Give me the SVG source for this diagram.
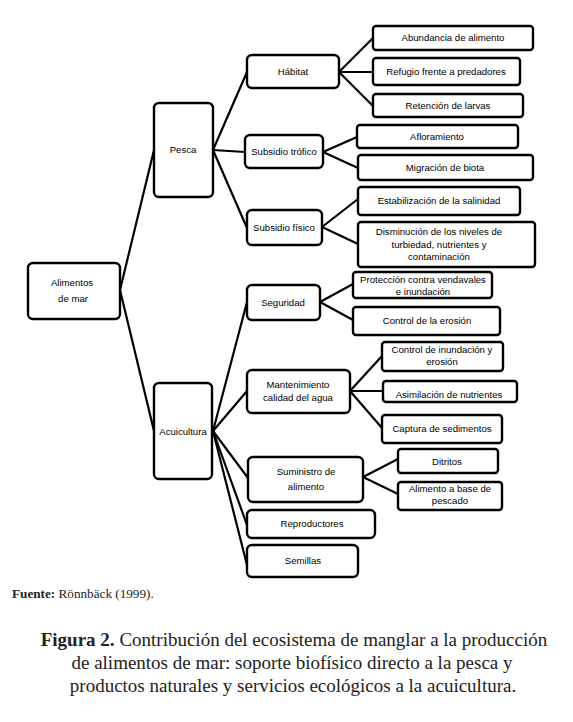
<svg xmlns="http://www.w3.org/2000/svg" width="573" height="722" viewBox="0 0 573 722">
<style>
.n rect{fill:#fff;stroke:#000;stroke-width:2.4}
.n text{font-family:"Liberation Sans",Arial,sans-serif;font-size:9.6px;fill:#000;text-anchor:middle}
#connectors line{stroke:#000;stroke-width:2.2;stroke-linecap:round}
.cap{font-family:"Liberation Serif","Times New Roman",serif;fill:#222}
</style>
<rect width="573" height="722" fill="#fff"/>
<g id="connectors">
<line x1="120" y1="290" x2="154" y2="150"/>
<line x1="120" y1="290" x2="154" y2="431"/>
<line x1="213" y1="150" x2="247" y2="72"/>
<line x1="213" y1="150" x2="245" y2="152"/>
<line x1="213" y1="150" x2="247" y2="228"/>
<line x1="339" y1="72" x2="373" y2="38"/>
<line x1="339" y1="72" x2="373" y2="72"/>
<line x1="339" y1="72" x2="373" y2="106"/>
<line x1="323" y1="152" x2="357" y2="137"/>
<line x1="323" y1="152" x2="358" y2="168"/>
<line x1="322" y1="227" x2="358" y2="199"/>
<line x1="322" y1="227" x2="358" y2="244"/>
<line x1="213" y1="431" x2="247" y2="302"/>
<line x1="213" y1="431" x2="247" y2="391"/>
<line x1="213" y1="431" x2="248" y2="478"/>
<line x1="213" y1="431" x2="247" y2="525"/>
<line x1="213" y1="431" x2="247" y2="565"/>
<line x1="320" y1="302" x2="353" y2="284"/>
<line x1="320" y1="302" x2="353" y2="320"/>
<line x1="350" y1="391" x2="382" y2="356"/>
<line x1="350" y1="391" x2="383" y2="391"/>
<line x1="350" y1="391" x2="382" y2="428"/>
<line x1="363" y1="477" x2="398" y2="459"/>
<line x1="363" y1="477" x2="398" y2="494"/>
</g>
<g id="alimentos" class="n"><rect x="28" y="263" width="92" height="56" rx="5"/><text x="72" y="286">Alimentos</text><text x="73" y="302">de mar</text></g>
<g id="pesca" class="n"><rect x="154" y="103" width="59" height="94" rx="5"/><text x="183" y="153">Pesca</text></g>
<g id="acuicultura" class="n"><rect x="154" y="383" width="58" height="96" rx="5"/><text x="183" y="435">Acuicultura</text></g>
<g id="habitat" class="n"><rect x="247" y="55" width="92" height="33" rx="5"/><text x="293" y="75">Hábitat</text></g>
<g id="abundancia" class="n"><rect x="373" y="26" width="160" height="24" rx="3"/><text x="453" y="41">Abundancia de alimento</text></g>
<g id="refugio" class="n"><rect x="373" y="58" width="147" height="27" rx="3"/><text x="446" y="75">Refugio frente a predadores</text></g>
<g id="retencion" class="n"><rect x="373" y="94" width="150" height="23" rx="3"/><text x="448" y="109">Retención de larvas</text></g>
<g id="subtrofico" class="n"><rect x="245" y="135" width="78" height="33" rx="5"/><text x="284" y="155">Subsidio trófico</text></g>
<g id="afloramiento" class="n"><rect x="357" y="125" width="161" height="23" rx="3"/><text x="437" y="140">Afloramiento</text></g>
<g id="migracion" class="n"><rect x="358" y="155" width="175" height="25" rx="3"/><text x="445" y="171">Migración de biota</text></g>
<g id="subfisico" class="n"><rect x="247" y="210" width="75" height="35" rx="5"/><text x="284" y="231">Subsidio físico</text></g>
<g id="estabilizacion" class="n"><rect x="358" y="187" width="162" height="28" rx="3"/><text x="439" y="204">Estabilización de la salinidad</text></g>
<g id="disminucion" class="n"><rect x="358" y="222" width="177" height="45" rx="3"/><text x="439" y="235">Disminución de los niveles de</text><text x="439" y="248">turbiedad, nutrientes y</text><text x="439" y="260">contaminación</text></g>
<g id="seguridad" class="n"><rect x="247" y="285" width="73" height="35" rx="5"/><text x="283" y="306">Seguridad</text></g>
<g id="proteccion" class="n"><rect x="353" y="272" width="139" height="26" rx="3"/><text x="423" y="283">Protección contra vendavales</text><text x="423" y="295">e inundación</text></g>
<g id="controlerosion" class="n"><rect x="353" y="307" width="147" height="28" rx="3"/><text x="427" y="324">Control de la erosión</text></g>
<g id="mantenimiento" class="n"><rect x="247" y="370" width="103" height="43" rx="5"/><text x="298" y="388">Mantenimiento</text><text x="298" y="401">calidad del agua</text></g>
<g id="controlinundacion" class="n"><rect x="382" y="342" width="121" height="29" rx="3"/><text x="442" y="353">Control de inundación y</text><text x="442" y="365">erosión</text></g>
<g id="asimilacion" class="n"><rect x="383" y="381" width="134" height="21" rx="3"/><text x="449" y="398">Asimilación de nutrientes</text></g>
<g id="captura" class="n"><rect x="382" y="415" width="120" height="28" rx="3"/><text x="442" y="432">Captura de sedimentos</text></g>
<g id="suministro" class="n"><rect x="248" y="457" width="115" height="45" rx="5"/><text x="306" y="475">Suministro de</text><text x="306" y="490">alimento</text></g>
<g id="ditritos" class="n"><rect x="398" y="449" width="100" height="24" rx="3"/><text x="447" y="465">Ditritos</text></g>
<g id="alimentobase" class="n"><rect x="398" y="482" width="104" height="28" rx="3"/><text x="450" y="492">Alimento a base de</text><text x="450" y="504">pescado</text></g>
<g id="reproductores" class="n"><rect x="247" y="510" width="128" height="28" rx="5"/><text x="312" y="527">Reproductores</text></g>
<g id="semillas" class="n"><rect x="247" y="545" width="111" height="32" rx="5"/><text x="303" y="564">Semillas</text></g>
<text class="cap" x="12" y="598" font-size="13.2"><tspan font-weight="bold">Fuente:</tspan> Rönnbäck (1999).</text>
<g class="cap" font-size="19" text-anchor="middle">
<text x="294" y="646"><tspan font-weight="bold">Figura 2.</tspan> Contribución del ecosistema de manglar a la producción</text>
<text x="292" y="669">de alimentos de mar: soporte biofísico directo a la pesca y</text>
<text x="293" y="692">productos naturales y servicios ecológicos a la acuicultura.</text>
</g>
</svg>
